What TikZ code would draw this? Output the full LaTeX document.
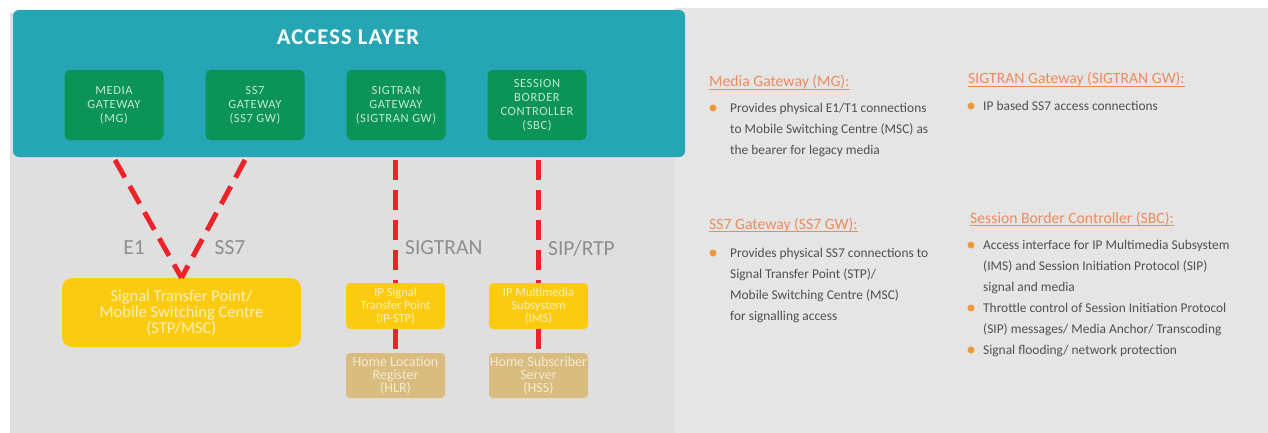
\documentclass[tikz,border=0pt]{standalone}
\usepackage{fontspec}
\setmainfont{Carlito}
\newfontfamily\spacedfont[LetterSpace=5]{Carlito}
\definecolor{panelleft}{HTML}{DFDFDF}
\definecolor{panelright}{HTML}{E6E5E6}
\definecolor{layerteal}{HTML}{26A5B4}
\definecolor{gwgreen}{HTML}{0B9455}
\definecolor{gwtext}{HTML}{C4E8D2}
\definecolor{nodeyellow}{HTML}{FCCB10}
\definecolor{yellowtext}{HTML}{FFF1B8}
\definecolor{nodetan}{HTML}{D9BC7F}
\definecolor{tantext}{HTML}{F6EAD0}
\definecolor{linkred}{HTML}{EC2329}
\definecolor{labelgrey}{HTML}{8E8E8E}
\definecolor{headorange}{HTML}{EF8A5A}
\definecolor{dotorange}{HTML}{F0983A}
\definecolor{bodygrey}{HTML}{505050}

\begin{document}
\begin{tikzpicture}[x=1pt,y=-1pt,
  gwbox/.style={fill=gwgreen,rounded corners=5pt,minimum width=99pt,minimum height=70pt,
    text=gwtext,align=center,inner sep=0pt,font=\spacedfont\fontsize{12.5}{14}\selectfont},
  stpbox/.style={fill=nodeyellow,rounded corners=4pt,minimum width=99pt,minimum height=46pt,
    text=yellowtext,align=center,inner sep=0pt,font=\fontsize{12.5}{13}\selectfont},
  dbbox/.style={fill=nodetan,rounded corners=4pt,minimum width=99pt,minimum height=45pt,
    text=tantext,align=center,inner sep=0pt,font=\fontsize{14}{13}\selectfont},
  link/.style={draw=linkred,line width=5pt,dash pattern=on 20pt off 10pt},
  linklabel/.style={text=labelgrey,inner sep=0pt,font=\fontsize{21.5}{24}\selectfont},
  heading/.style={text=headorange,inner sep=0pt,anchor=base west,font=\fontsize{15.7}{18}\selectfont},
  bodytext/.style={text=bodygrey,inner sep=0pt,anchor=north west,align=left,font=\fontsize{13.4}{21}\selectfont},
  dot/.style={fill=dotorange,circle,inner sep=0pt,minimum size=7pt}]
\useasboundingbox (0,0) rectangle (1268,433);

% panels
\fill[panelleft] (10,13) rectangle (675,433);
\fill[panelright] (675,8) rectangle (1268,433);
\fill[layerteal,rounded corners=6pt] (13,10) rectangle (685,157);
\node[text=white,font=\bfseries\spacedfont\fontsize{22.5}{24}\selectfont] (layer) at (348,37) {ACCESS LAYER};

% gateways
\node[gwbox] (mg) at (114,105) {MEDIA\\GATEWAY\\(MG)};
\node[gwbox] (ss7gw) at (255,105) {SS7\\GATEWAY\\(SS7 GW)};
\node[gwbox] (siggw) at (396,105) {SIGTRAN\\GATEWAY\\(SIGTRAN GW)};
\node[gwbox] (sbc) at (537,105) {SESSION\\BORDER\\CONTROLLER\\(SBC)};

% core nodes
\node[fill=nodeyellow,rounded corners=10pt,minimum width=239pt,minimum height=69pt,
  text=yellowtext,align=center,inner sep=0pt,font=\fontsize{16.5}{16}\selectfont]
  (stp) at (181.5,312.5) {Signal Transfer Point/\\Mobile Switching Centre\\(STP/MSC)};
\node[stpbox] (ipstp) at (395.5,306) {IP Signal\\Transfer Point\\(IP-STP)};
\node[stpbox] (ims) at (538.5,306) {IP Multimedia\\Subsystem\\(IMS)};
\node[dbbox] (hlr) at (395.5,375.5) {Home Location\\Register\\(HLR)};
\node[dbbox] (hss) at (538.5,375.5) {Home Subscriber\\Server\\(HSS)};

% links
\coordinate (mgout) at (115,160);
\coordinate (ss7out) at (245,160);
\coordinate (sigout) at (395.5,160);
\coordinate (sbcout) at (538.5,160);
\draw[link] (mgout) -- (stp.north);
\draw[link] (ss7out) -- (stp.north);
\draw[link] (sigout) -- (ipstp.north);
\draw[link] (ipstp.south) -- (hlr.north);
\draw[link] (sbcout) -- (ims.north);
\draw[link] (ims.south) -- (hss.north);

\node[linklabel] (e1) at (134,248) {E1};
\node[linklabel] (ss7) at (230,248) {SS7};
\node[linklabel,anchor=west] (sigtran) at (405,248) {SIGTRAN};
\node[linklabel,anchor=west] (siprtp) at (548,248) {SIP/RTP};

% descriptions
\node[heading] (hmg) at (709,87) {Media Gateway (MG):};
\draw[headorange,line width=0.8pt] ([yshift=-2.5pt]hmg.base west) -- ([yshift=-2.5pt]hmg.base east);
\node[dot] (dmg1) at (713,108) {};
\node[bodytext] (mg1) at (730,103) {Provides physical E1/T1 connections\\to Mobile Switching Centre (MSC) as\\the bearer for legacy media};

\node[heading] (hsig) at (968,84) {SIGTRAN Gateway (SIGTRAN GW):};
\draw[headorange,line width=0.8pt] ([yshift=-2.5pt]hsig.base west) -- ([yshift=-2.5pt]hsig.base east);
\node[dot] (dsig1) at (971,106) {};
\node[bodytext] (sig1) at (983,101) {IP based SS7 access connections};

\node[heading] (hss7) at (709,229) {SS7 Gateway (SS7 GW):};
\draw[headorange,line width=0.8pt] ([yshift=-2.5pt]hss7.base west) -- ([yshift=-2.5pt]hss7.base east);
\node[dot] (dss71) at (713,253) {};
\node[bodytext] (ss71) at (730,248) {Provides physical SS7 connections to\\Signal Transfer Point (STP)/\\Mobile Switching Centre (MSC)\\for signalling access};

\node[heading] (hsbc) at (970,223) {Session Border Controller (SBC):};
\draw[headorange,line width=0.8pt] ([yshift=-2.5pt]hsbc.base west) -- ([yshift=-2.5pt]hsbc.base east);
\node[dot] (dsbc1) at (971,245) {};
\node[bodytext] (sbc1) at (983,240) {Access interface for IP Multimedia Subsystem\\(IMS) and Session Initiation Protocol (SIP)\\signal and media};
\node[dot] (dsbc2) at (971,308) {};
\node[bodytext] (sbc2) at (983,303) {Throttle control of Session Initiation Protocol\\(SIP) messages/ Media Anchor/ Transcoding};
\node[dot] (dsbc3) at (971,350) {};
\node[bodytext] (sbc3) at (983,345) {Signal flooding/ network protection};
\end{tikzpicture}
\end{document}
